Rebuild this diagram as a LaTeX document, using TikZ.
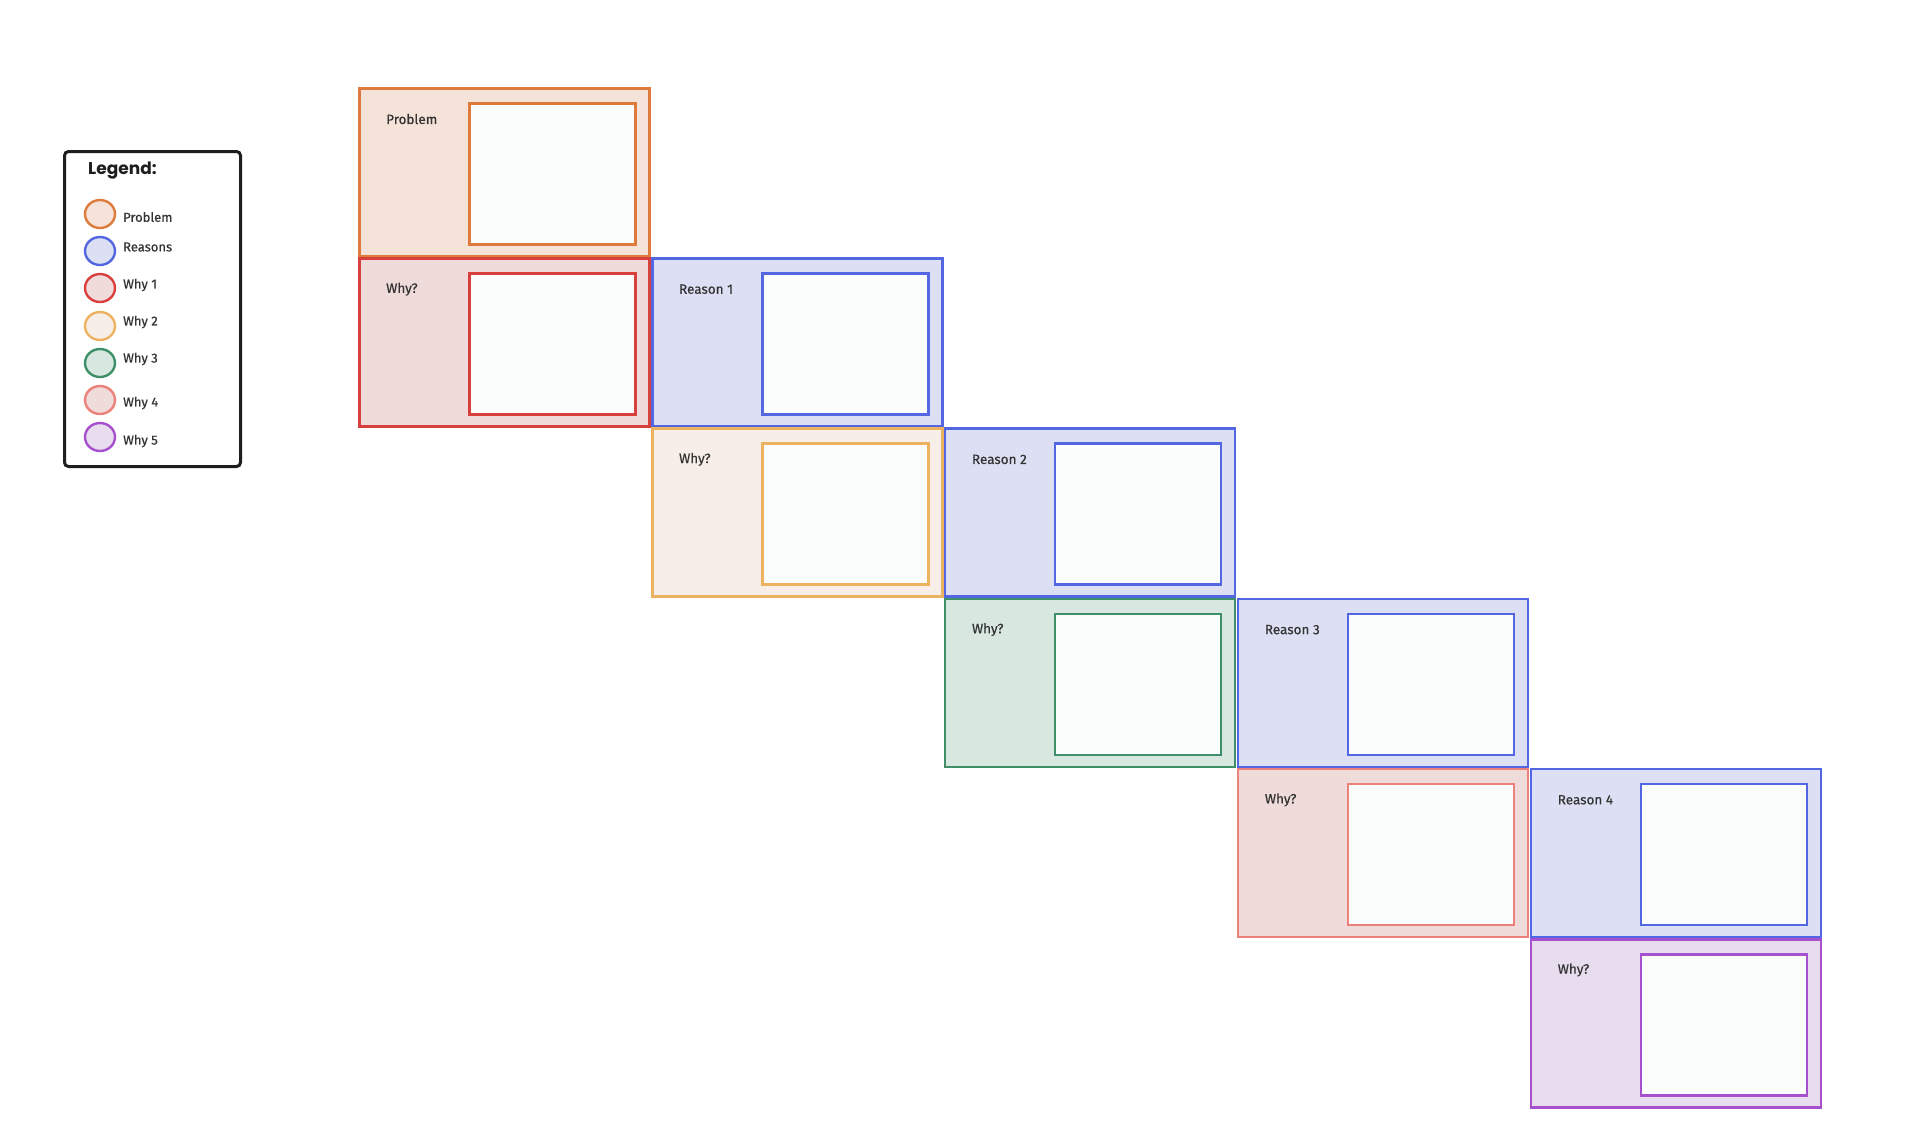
\documentclass[tikz,border=0pt]{standalone}
\usepackage{fontspec}
\setmainfont{Fira Sans}
\newfontfamily\titlefont{Poppins}
\definecolor{probS}{HTML}{DD7A3C}
\definecolor{probF}{HTML}{F5E3D9}
\definecolor{reasS}{HTML}{5467E2}
\definecolor{reasF}{HTML}{DDE0F4}
\definecolor{whyaS}{HTML}{D8403E}
\definecolor{whyaF}{HTML}{F0DBDB}
\definecolor{whybS}{HTML}{EDB25F}
\definecolor{whybF}{HTML}{F7EFE7}
\definecolor{whycS}{HTML}{3F8F68}
\definecolor{whycF}{HTML}{D8E8E1}
\definecolor{whydS}{HTML}{EC807B}
\definecolor{whydF}{HTML}{F0DBDB}
\definecolor{whyeS}{HTML}{A650CF}
\definecolor{whyeF}{HTML}{E8DDEF}
\definecolor{innerF}{HTML}{FBFDFC}
\definecolor{txt}{HTML}{333333}
\definecolor{legS}{HTML}{1E1E1E}
\tikzset{
  outerbox/.style={draw=#1S, fill=#1F, line width=2.6pt, rectangle, anchor=north west,
    minimum width=290pt, minimum height=168pt, inner sep=0pt},
  innerbox/.style={draw=#1S, fill=innerF, line width=2.6pt, rectangle, anchor=north west,
    minimum width=166pt, minimum height=141pt, inner sep=0pt},
  boxlabel/.style={anchor=west, inner sep=0pt, text=txt, font=\fontsize{13.5}{16}\selectfont\addfontfeature{FakeBold=0.5}},
  legcircle/.style={draw=#1S, fill=#1F, line width=2.4pt, ellipse, minimum width=30pt, minimum height=28pt, inner sep=0pt},
  leglabel/.style={anchor=west, inner sep=0pt, text=txt, font=\fontsize{13}{15}\selectfont\addfontfeature{FakeBold=0.5}},
}
\usetikzlibrary{shapes.geometric}
\begin{document}
\begin{tikzpicture}[x=1pt,y=-1pt]
\useasboundingbox (0,0) rectangle (1920,1136);
\fill[white] (0,0) rectangle (1920,1136);
% legend
\node[draw=legS, line width=3pt, rounded corners=4pt, rectangle, anchor=north west,
  minimum width=176pt, minimum height=315pt, inner sep=0pt] (legend) at (63,150) {};
\node[anchor=west, inner sep=0pt, text=legS, font=\titlefont\fontsize{17}{20}\selectfont\bfseries] (legtitle) at (88,171) {Legend:};
\foreach \n/\c/\cy/\ly/\t in {lp/prob/214/217/Problem, lr/reas/251/247/Reasons, la/whya/288/285/Why 1, lb/whyb/326/322/Why 2, lc/whyc/363/359/Why 3, ld/whyd/400/403/Why 4, le/whye/437/441/Why 5}{
  \node[legcircle=\c] (\n c) at (100,\cy) {};
  \node[leglabel] (\n t) at (123,\ly) {\t};
}
% boxes
\foreach \n/\c/\col/\row/\t in {
  prob/prob/0/0/Problem,
  why1/whya/0/1/Why?,
  reas1/reas/1/1/Reason 1,
  why2/whyb/1/2/Why?,
  reas2/reas/2/2/Reason 2,
  why3/whyc/2/3/Why?,
  reas3/reas/3/3/Reason 3,
  why4/whyd/3/4/Why?,
  reas4/reas/4/4/Reason 4,
  why5/whye/4/5/Why?}{
  \pgfmathsetmacro{\bx}{358+292.9*\col}
  \pgfmathsetmacro{\by}{87+170.2*\row}
  \node[outerbox=\c] (\n) at (\bx,\by) {};
  \node[innerbox=\c] (\n in) at (\bx+110,\by+15) {};
  \node[boxlabel] (\n lab) at (\bx+28,\by+32) {\t};
}
\end{tikzpicture}
\end{document}
